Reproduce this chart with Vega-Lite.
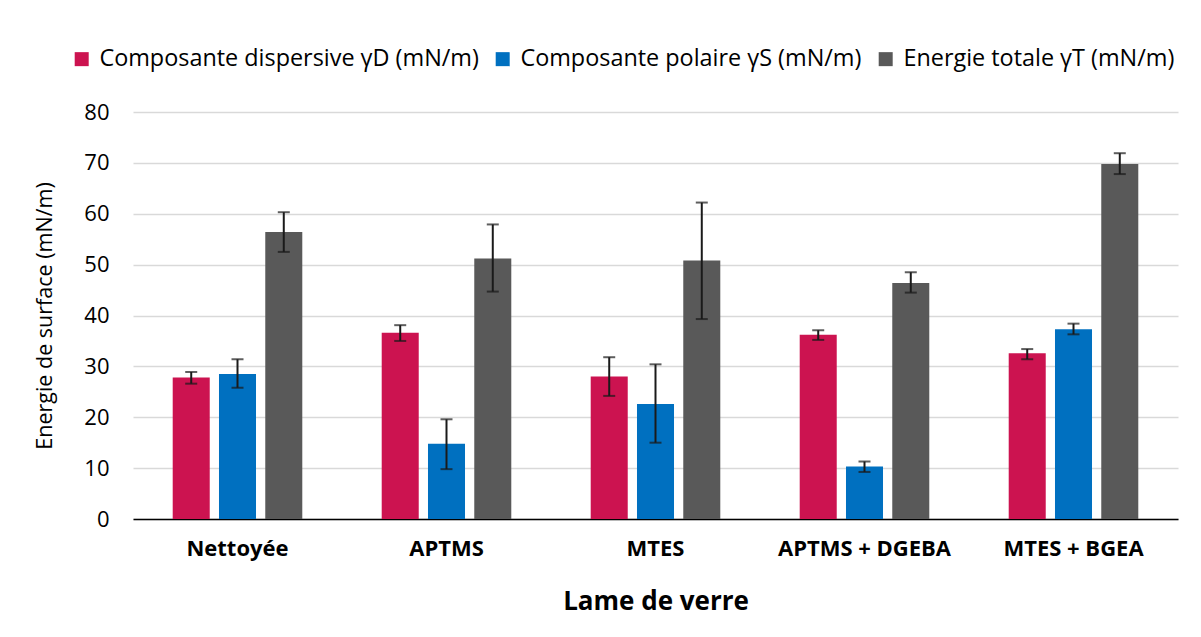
{
  "$schema": "https://vega.github.io/schema/vega-lite/v6.json",
  "autosize": {"type": "none"},
  "padding": {"left": 133, "top": 112, "right": 23, "bottom": 118},
  "width": 1045,
  "height": 407,
  "background": "white",
  "config": {
    "font": "Open Sans",
    "view": {"stroke": null},
    "axis": {"labelColor": "#000000", "titleColor": "#000000", "labelFont": "Open Sans", "titleFont": "Open Sans"}
  },
  "data": {
    "values": [
      {"cat": "Nettoyée", "serie": "Composante dispersive γD (mN/m)", "val": 27.8, "lo": 26.6, "hi": 28.9},
      {"cat": "Nettoyée", "serie": "Composante polaire γS (mN/m)", "val": 28.5, "lo": 25.8, "hi": 31.4},
      {"cat": "Nettoyée", "serie": "Energie totale γT (mN/m)", "val": 56.4, "lo": 52.5, "hi": 60.3},
      {"cat": "APTMS", "serie": "Composante dispersive γD (mN/m)", "val": 36.6, "lo": 35.0, "hi": 38.1},
      {"cat": "APTMS", "serie": "Composante polaire γS (mN/m)", "val": 14.8, "lo": 9.8, "hi": 19.6},
      {"cat": "APTMS", "serie": "Energie totale γT (mN/m)", "val": 51.2, "lo": 44.7, "hi": 57.9},
      {"cat": "MTES", "serie": "Composante dispersive γD (mN/m)", "val": 28.0, "lo": 24.2, "hi": 31.8},
      {"cat": "MTES", "serie": "Composante polaire γS (mN/m)", "val": 22.6, "lo": 15.0, "hi": 30.4},
      {"cat": "MTES", "serie": "Energie totale γT (mN/m)", "val": 50.8, "lo": 39.3, "hi": 62.2},
      {"cat": "APTMS + DGEBA", "serie": "Composante dispersive γD (mN/m)", "val": 36.2, "lo": 35.2, "hi": 37.1},
      {"cat": "APTMS + DGEBA", "serie": "Composante polaire γS (mN/m)", "val": 10.3, "lo": 9.25, "hi": 11.3},
      {"cat": "APTMS + DGEBA", "serie": "Energie totale γT (mN/m)", "val": 46.4, "lo": 44.5, "hi": 48.5},
      {"cat": "MTES + BGEA", "serie": "Composante dispersive γD (mN/m)", "val": 32.6, "lo": 31.4, "hi": 33.4},
      {"cat": "MTES + BGEA", "serie": "Composante polaire γS (mN/m)", "val": 37.3, "lo": 36.3, "hi": 38.4},
      {"cat": "MTES + BGEA", "serie": "Energie totale γT (mN/m)", "val": 69.8, "lo": 67.8, "hi": 71.9}
    ]
  },
  "encoding": {
    "x": {
      "field": "cat", "type": "nominal",
      "sort": ["Nettoyée", "APTMS", "MTES", "APTMS + DGEBA", "MTES + BGEA"],
      "scale": {"paddingInner": 0.38, "paddingOuter": 0.19},
      "axis": {
        "title": "Lame de verre", "titleFontSize": 26, "titleFontWeight": "bold", "titlePadding": 29,
        "labelFontSize": 22, "labelFontWeight": "bold", "labelPadding": 19, "labelAngle": 0,
        "ticks": false, "domainColor": "#000000", "domainWidth": 1.6
      }
    },
    "xOffset": {
      "field": "serie", "type": "nominal",
      "sort": ["Composante dispersive γD (mN/m)", "Composante polaire γS (mN/m)", "Energie totale γT (mN/m)"],
      "scale": {"paddingInner": 0.2, "paddingOuter": 0}
    }
  },
  "layer": [
    {
      "mark": {"type": "bar"},
      "encoding": {
        "y": {
          "field": "val", "type": "quantitative",
          "scale": {"domain": [0, 80], "nice": false},
          "axis": {
            "title": "Energie de surface (mN/m)", "titleFontSize": 21.5, "titleFontWeight": "normal", "titlePadding": 27,
            "labelFontSize": 22, "labelPadding": 24, "values": [0, 10, 20, 30, 40, 50, 60, 70, 80],
            "domain": false, "ticks": false, "gridColor": "#d9d9d9", "gridWidth": 1.5
          }
        },
        "color": {
          "field": "serie", "type": "nominal",
          "sort": ["Composante dispersive γD (mN/m)", "Composante polaire γS (mN/m)", "Energie totale γT (mN/m)"],
          "scale": {
            "domain": ["Composante dispersive γD (mN/m)", "Composante polaire γS (mN/m)", "Energie totale γT (mN/m)"],
            "range": ["#CC1350", "#0070C0", "#595959"]
          },
          "legend": {
            "title": null, "orient": "none", "direction": "horizontal", "columns": 3,
            "legendX": -63, "legendY": -65,
            "symbolType": "square", "symbolSize": 196, "symbolStrokeWidth": 0,
            "labelFontSize": 23.4, "labelFont": "Open Sans", "labelColor": "#000000", "labelOffset": 6,
            "columnPadding": 12, "labelLimit": 500
          }
        }
      }
    },
    {
      "mark": {"type": "rule", "color": "#1a1a1a", "strokeWidth": 2},
      "encoding": {
        "y": {"field": "lo", "type": "quantitative"},
        "y2": {"field": "hi"}
      }
    },
    {
      "mark": {"type": "tick", "color": "#1a1a1a", "thickness": 2, "size": 12, "orient": "horizontal"},
      "encoding": {"y": {"field": "lo", "type": "quantitative"}}
    },
    {
      "mark": {"type": "tick", "color": "#1a1a1a", "thickness": 2, "size": 12, "orient": "horizontal"},
      "encoding": {"y": {"field": "hi", "type": "quantitative"}}
    }
  ]
}
